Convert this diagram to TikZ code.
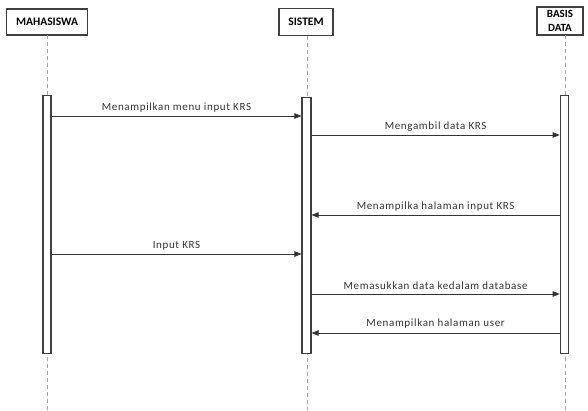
\documentclass[tikz,border=0pt]{standalone}
\usepackage{fontspec}
\setmainfont{Carlito}
\newfontfamily\msgfont[LetterSpace=6]{Carlito}
\usetikzlibrary{arrows.meta}
\tikzset{
  actor/.style={draw=black!75, line width=1.2pt, fill=white, inner sep=0pt, font=\bfseries\fontsize{11.5}{12}\selectfont},
  lifeline/.style={draw=black!35, dashed, dash pattern=on 4pt off 3pt, line width=0.6pt},
  activation/.style={draw=black!75, line width=1.1pt, fill=white},
  msg/.style={draw=black!80, line width=0.8pt, -{Triangle[length=7pt,width=5.5pt]}},
  msglabel/.style={font=\msgfont\fontsize{11}{12}\selectfont, text=black!80, inner sep=1pt}
}
\begin{document}
\begin{tikzpicture}[x=1pt,y=-1pt]
\useasboundingbox (0,0) rectangle (588,410);

% actor heads
\node[actor, minimum width=81pt, minimum height=26pt] (mhs) at (47,22) {MAHASISWA};
\node[actor, minimum width=54pt, minimum height=27pt] (sys) at (306,22) {SISTEM};
\node[actor, minimum width=46pt, minimum height=28pt, align=center,
      font=\bfseries\fontsize{11}{15.5}\selectfont] (db) at (560,21) {\raisebox{-1pt}{BASIS}\\DATA};

% lifelines
\coordinate (mhsEnd) at (47,410);
\coordinate (sysEnd) at (307,410);
\coordinate (dbEnd) at (565,410);
\draw[lifeline] (47,35) -- (mhsEnd);
\draw[lifeline] (307,36) -- (sysEnd);
\draw[lifeline] (565,35) -- (dbEnd);

% activation bars
\node[activation, minimum width=8pt, minimum height=258pt, inner sep=0pt, anchor=north] (actM) at (47,95) {};
\node[activation, minimum width=9pt, minimum height=256pt, inner sep=0pt, anchor=north] (actS) at (306.5,97) {};
\node[activation, minimum width=8.5pt, minimum height=258pt, inner sep=0pt, anchor=north] (actD) at (564.5,95) {};

% messages
\coordinate (m1a) at (actM.east |- 0,116);
\coordinate (m1b) at (actS.west |- 0,116);
\draw[msg] (m1a) -- node[msglabel, above=2pt] {Menampilkan menu input KRS} (m1b);

\coordinate (m2a) at (actS.east |- 0,135);
\coordinate (m2b) at (actD.west |- 0,135);
\draw[msg] (m2a) -- node[msglabel, above=2pt] {Mengambil data KRS} (m2b);

\coordinate (m3a) at (actD.west |- 0,215);
\coordinate (m3b) at (actS.east |- 0,215);
\draw[msg] (m3a) -- node[msglabel, above=2pt] {Menampilka halaman input KRS} (m3b);

\coordinate (m4a) at (actM.east |- 0,254);
\coordinate (m4b) at (actS.west |- 0,254);
\draw[msg] (m4a) -- node[msglabel, above=2pt] {Input KRS} (m4b);

\coordinate (m5a) at (actS.east |- 0,294);
\coordinate (m5b) at (actD.west |- 0,294);
\draw[msg] (m5a) -- node[msglabel, above=3pt] {Memasukkan data kedalam database} (m5b);

\coordinate (m6a) at (actD.west |- 0,333);
\coordinate (m6b) at (actS.east |- 0,333);
\draw[msg] (m6a) -- node[msglabel, above=3pt] {Menampilkan halaman user} (m6b);
\end{tikzpicture}
\end{document}
